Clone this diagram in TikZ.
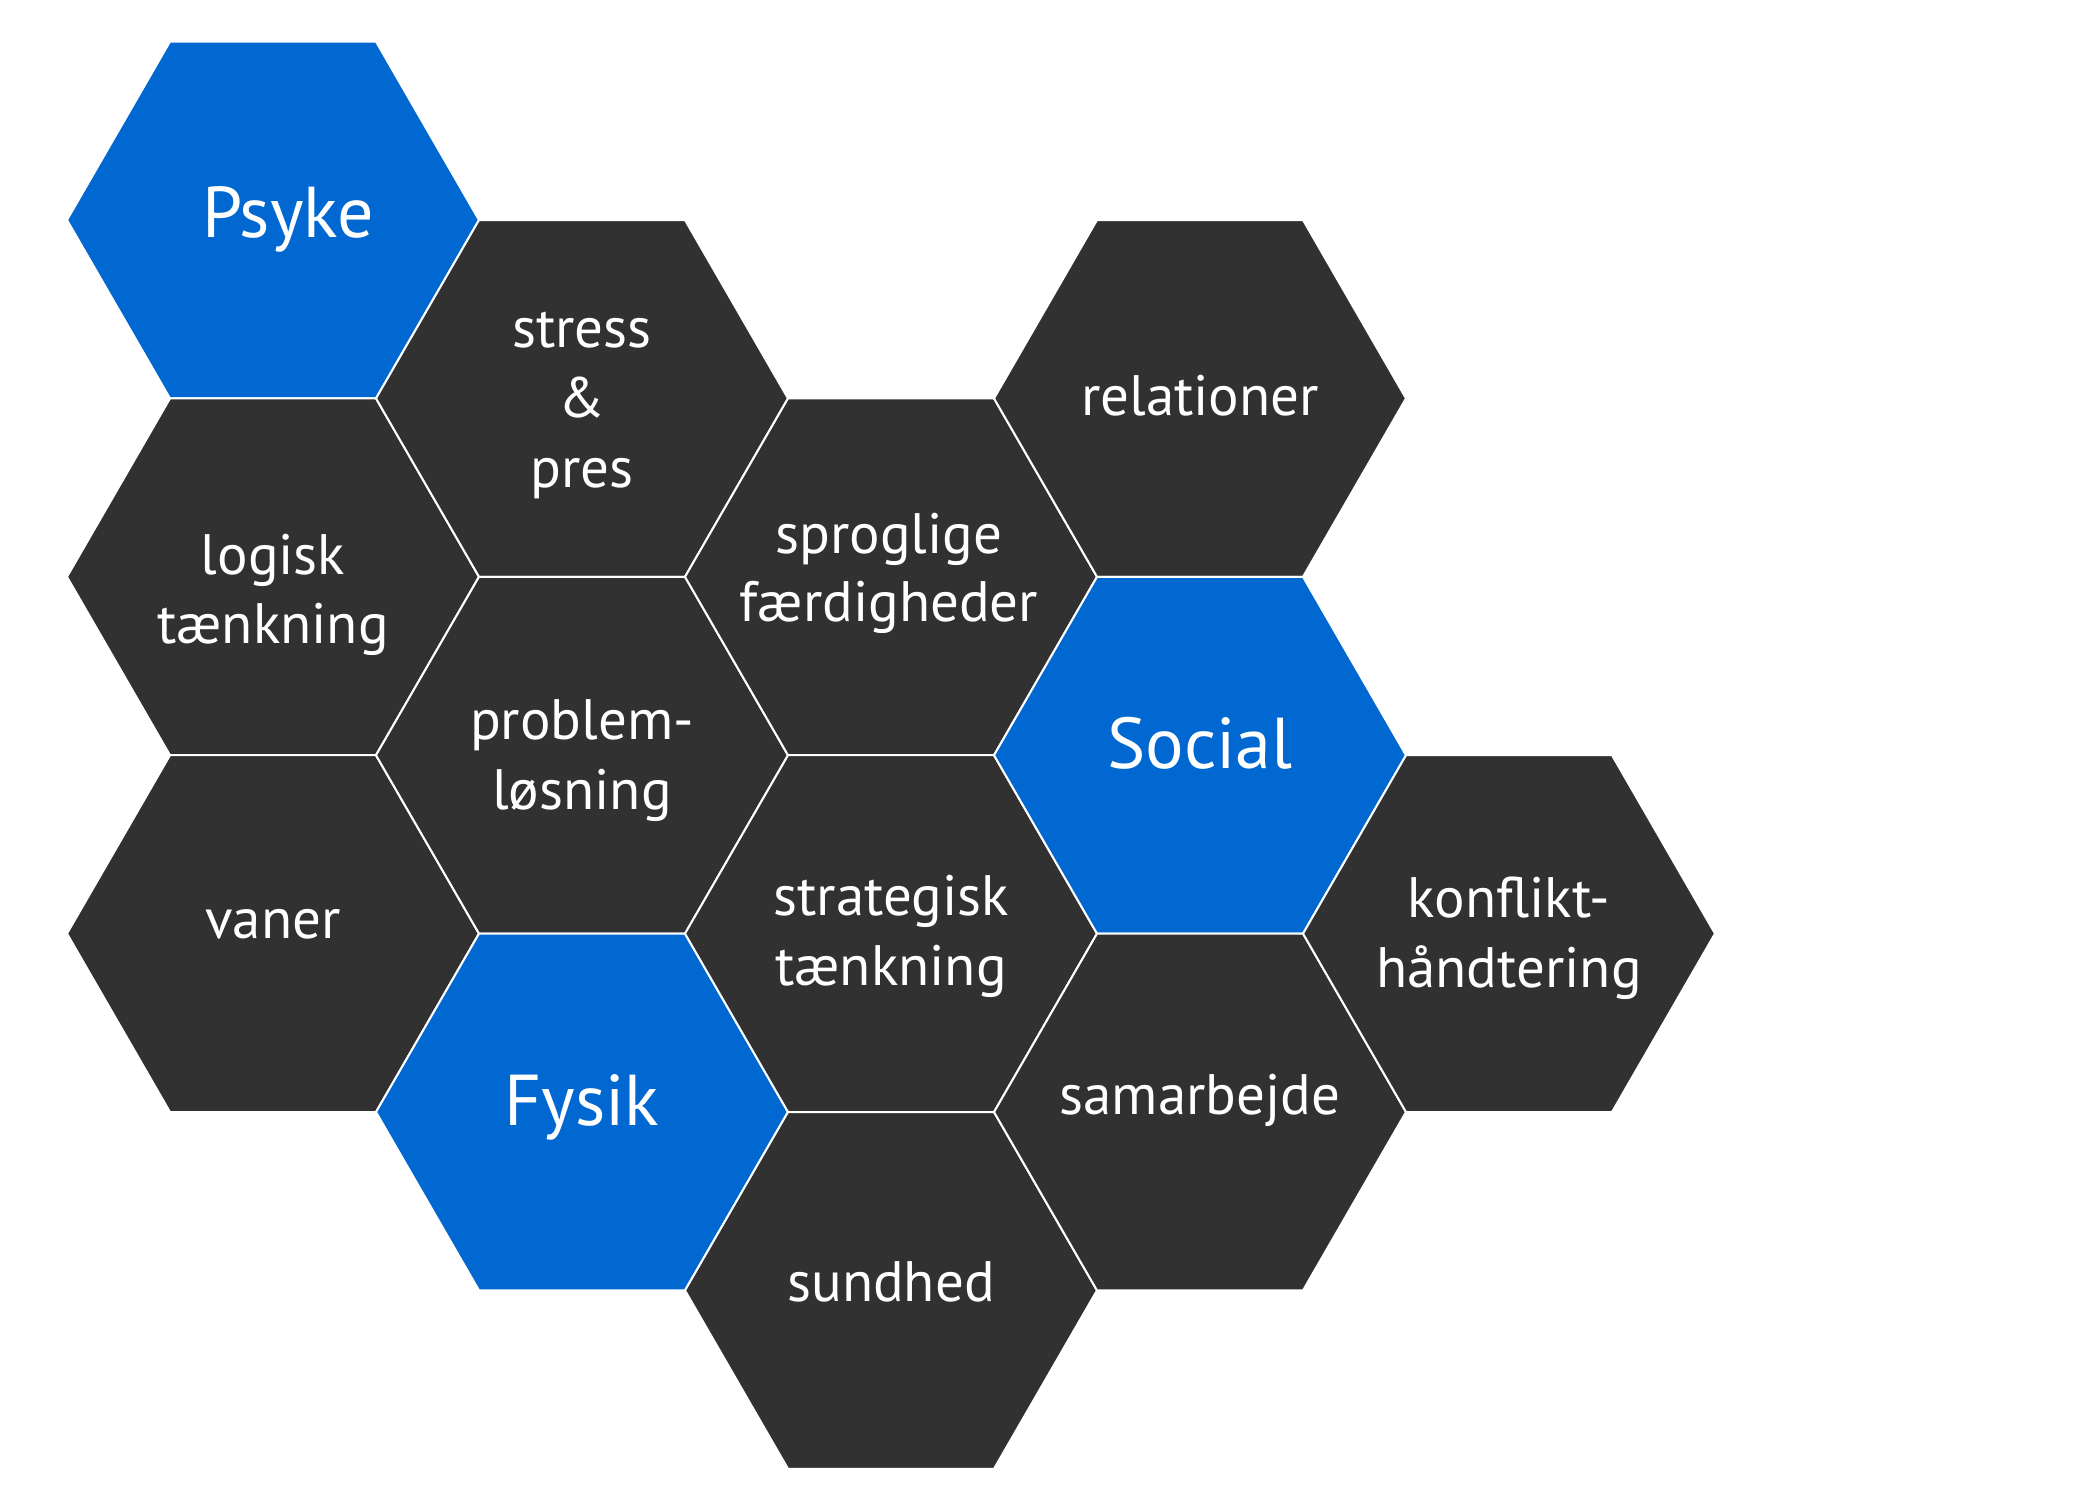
\documentclass[tikz,border=0pt]{standalone}
\usepackage{fontspec}
\setmainfont{PT Sans}
\usetikzlibrary{shapes.geometric}
\definecolor{hexdark}{RGB}{49,49,49}
\definecolor{hexblue}{RGB}{2,104,209}
\tikzset{
  hexbase/.style={regular polygon, regular polygon sides=6, minimum size=412pt,
    inner sep=0pt, outer sep=0pt, draw=white, line width=2pt},
  hexd/.style={hexbase, fill=hexdark},
  hexb/.style={hexbase, fill=hexblue},
  small/.style={text=white, anchor=base, inner sep=0pt, font=\fontsize{57}{69}\selectfont},
  big/.style={text=white, anchor=base, inner sep=0pt, font=\fontsize{72}{86}\selectfont},
}
\begin{document}
\begin{tikzpicture}[x=1pt,y=-1pt]
\useasboundingbox (0,0) rectangle (2100,1500);
% centers: x = 273 + 309 c, y = 220 + 178.4 r
\node[hexb] (h00) at (273,220.0) {};
\node[hexd] (h02) at (273,576.8) {};
\node[hexd] (h04) at (273,933.6) {};
\node[hexd] (h11) at (582,398.4) {};
\node[hexd] (h13) at (582,755.2) {};
\node[hexb] (h15) at (582,1112.0) {};
\node[hexd] (h22) at (891,576.8) {};
\node[hexd] (h24) at (891,933.6) {};
\node[hexd] (h26) at (891,1290.4) {};
\node[hexd] (h31) at (1200,398.4) {};
\node[hexb] (h33) at (1200,755.2) {};
\node[hexd] (h35) at (1200,1112.0) {};
\node[hexd] (h44) at (1509,933.6) {};
% labels (placed by baseline)
\node[big] (tpsyke) at (288,237) {Psyke};
\node[big] (tfysik) at (582,1125) {Fysik};
\node[big] (tsocial) at (1200,768) {Social};
\node[small] (tlogisk1) at (273,574) {logisk};
\node[small] (tlogisk2) at (273,643) {tænkning};
\node[small] (tvaner) at (273,938) {vaner};
\node[small] (tstress1) at (582,347) {stress};
\node[small] (tstress2) at (582,417) {\&};
\node[small] (tstress3) at (582,487) {pres};
\node[small] (tproblem1) at (582,739) {problem-};
\node[small] (tproblem2) at (582,809) {løsning};
\node[small] (tsprog1) at (889,553) {sproglige};
\node[small] (tsprog2) at (889,621) {færdigheder};
\node[small] (tstrat1) at (891,915) {strategisk};
\node[small] (tstrat2) at (891,985) {tænkning};
\node[small] (tsund) at (891,1301) {sundhed};
\node[small] (trel) at (1200,415) {relationer};
\node[small] (tsam) at (1200,1114) {samarbejde};
\node[small] (tkonf1) at (1509,917) {konflikt-};
\node[small] (tkonf2) at (1509,987) {håndtering};
\end{tikzpicture}
\end{document}
